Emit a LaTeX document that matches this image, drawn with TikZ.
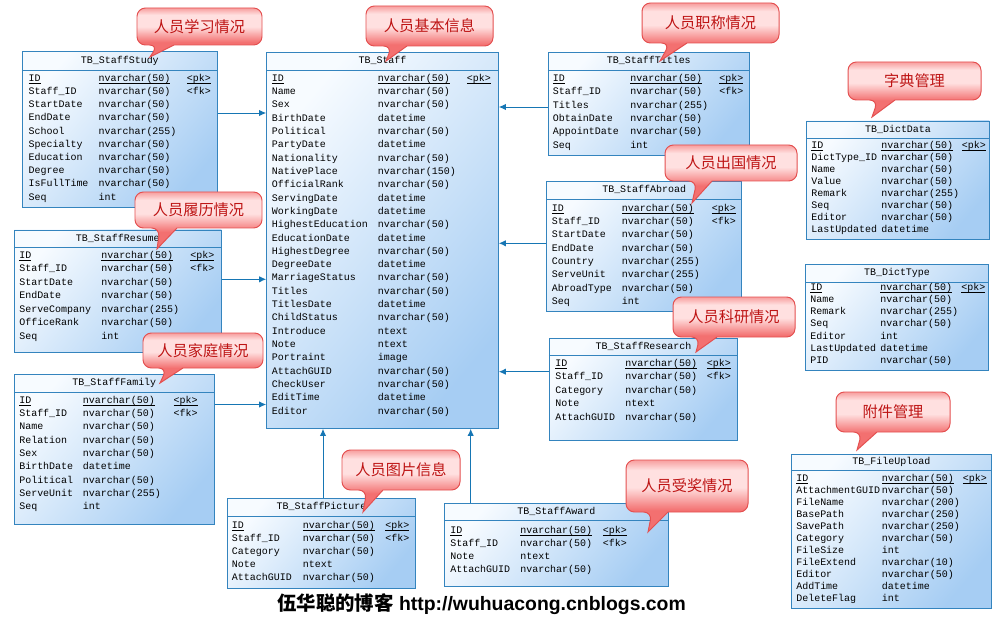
\documentclass[tikz,border=0pt]{standalone}
\usepackage{fontspec}
\usetikzlibrary{fit,arrows.meta}
\setsansfont{Liberation Sans}
\newfontfamily\cjk{Noto Sans CJK SC}
\newfontfamily\tblfont{Liberation Mono}

\definecolor{tblline}{RGB}{52,132,190}
\definecolor{tblhi}{RGB}{247,251,255}
\definecolor{tbllo}{RGB}{166,205,243}
\definecolor{connblue}{RGB}{22,118,180}
\definecolor{bubline}{RGB}{228,80,80}
\definecolor{bubdeep}{RGB}{243,112,112}
\definecolor{bubpale}{RGB}{255,224,224}
\definecolor{bubtop}{RGB}{247,158,158}
\definecolor{bubtext}{RGB}{190,20,20}

\pgfdeclareverticalshading{bubshade}{100bp}{color(0bp)=(bubdeep); color(25bp)=(bubdeep); color(40bp)=(bubdeep); color(56bp)=(bubpale); color(68bp)=(bubpale); color(75bp)=(bubtop); color(100bp)=(bubtop)}

% primary key text, underlined close to the baseline
\newcommand{\pkul}[1]{\underline{\smash{#1}}}

% rows of a table: name, x of field, x of type, y of first row, row step, rows
\newcommand{\dbrows}[6]{%
  \foreach \f/\t [count=\i from 0] in {#6}{
    \node[fld] (#1-f\i) at (#2,{#4+\i*#5}) {\f};
    \node[fld] (#1-t\i) at (#3,{#4+\i*#5}) {\t};
  }}

% speech bubble: name, x1, y1, x2, y2, pointer base left/right, tip, text
\newcommand{\bubble}[9]{%
  \draw[bub] (#8) -- (#7,#5) [rounded corners=6pt] -- (#4,#5) -- (#4,#3) -- (#2,#3) -- (#2,#5) -- (#6,#5) [sharp corners] -- cycle;
  \node[bubtxt] (#1) at ({(#2+#4)/2},{(#3+#5)/2}) {#9};}

\begin{document}
\begin{tikzpicture}[x=0.025cm, y=-0.025cm,
    tbl/.style={draw=tblline, line width=0.7pt, top color=tblhi, bottom color=tbllo, shading angle=50},
    tblln/.style={draw=tblline, line width=0.7pt},
    fld/.style={anchor=west, text height=4.7pt, text depth=1.4pt, font=\tblfont\fontsize{7.1}{8}\selectfont},
    ttl/.style={text height=4.7pt, text depth=1.4pt, font=\tblfont\fontsize{7.1}{8}\selectfont},
    fk/.style={draw=connblue, line width=0.7pt, -{Latex[length=5pt,width=4.5pt]}},
    bub/.style={draw=bubline, line width=0.7pt, shade, shading=bubshade},
    bubtxt/.style={text=bubtext, font=\cjk\fontsize{10.8}{12}\selectfont},
    foot/.style={font=\sffamily\bfseries\fontsize{13.8}{16}\selectfont}]
\tikzstyle{every node}+=[inner sep=0pt]
\useasboundingbox[fill=white] (0,0) rectangle (1003,622);

% TB_Staff
\node[tbl, fit={(266.7,52.3) (498.3,428.3)}] (staff) {};
\draw[tblln] (staff.west |- 0,70) -- (staff.east |- 0,70);
\node[ttl] (staff-ttl) at (382.5,61) {TB\_Staff};
\dbrows{staff}{271.7}{377.7}{79}{13.31}{\pkul{ID}/\pkul{nvarchar(50)}, Name/nvarchar(50), Sex/nvarchar(50),
  BirthDate/datetime, Political/nvarchar(50), PartyDate/datetime, Nationality/nvarchar(50), NativePlace/nvarchar(150),
  OfficialRank/nvarchar(50), ServingDate/datetime, WorkingDate/datetime, HighestEducation/nvarchar(50),
  EducationDate/datetime, HighestDegree/nvarchar(50), DegreeDate/datetime, MarriageStatus/nvarchar(50),
  Titles/nvarchar(50), TitlesDate/datetime, ChildStatus/nvarchar(50), Introduce/ntext, Note/ntext, Portraint/image,
  AttachGUID/nvarchar(50), CheckUser/nvarchar(50), EditTime/datetime, Editor/nvarchar(50)}
\node[fld] (staff-pk) at (466.7,79) {\pkul{<pk>}};

% TB_StaffStudy
\node[tbl, fit={(22.3,51.7) (217.3,207.3)}] (study) {};
\draw[tblln] (study.west |- 0,70) -- (study.east |- 0,70);
\node[ttl] (study-ttl) at (119.8,61) {TB\_StaffStudy};
\dbrows{study}{28.3}{98.3}{79}{13.2}{\pkul{ID}/\pkul{nvarchar(50)}, Staff\_ID/nvarchar(50), StartDate/nvarchar(50),
  EndDate/nvarchar(50), School/nvarchar(255), Specialty/nvarchar(50), Education/nvarchar(50), Degree/nvarchar(50),
  IsFullTime/nvarchar(50), Seq/int}
\node[fld] (study-pk) at (186.7,79) {\pkul{<pk>}};
\node[fld] (study-fk) at (186.7,92.2) {<fk>};

% TB_StaffTitles
\node[tbl, fit={(548.3,52.3) (749.3,155)}] (titles) {};
\draw[tblln] (titles.west |- 0,70) -- (titles.east |- 0,70);
\node[ttl] (titles-ttl) at (648.8,61) {TB\_StaffTitles};
\dbrows{titles}{552.7}{630}{79}{13.4}{\pkul{ID}/\pkul{nvarchar(50)}, Staff\_ID/nvarchar(50), Titles/nvarchar(255),
  ObtainDate/nvarchar(50), AppointDate/nvarchar(50), Seq/int}
\node[fld] (titles-pk) at (719,79) {\pkul{<pk>}};
\node[fld] (titles-fk) at (719,92.4) {<fk>};

% TB_StaffResume
\node[tbl, fit={(14.3,230) (221.3,352.3)}] (resume) {};
\draw[tblln] (resume.west |- 0,247.3) -- (resume.east |- 0,247.3);
\node[ttl] (resume-ttl) at (117.8,238.7) {TB\_StaffResume};
\dbrows{resume}{19}{101}{256}{13.45}{\pkul{ID}/\pkul{nvarchar(50)}, Staff\_ID/nvarchar(50), StartDate/nvarchar(50),
  EndDate/nvarchar(50), ServeCompany/nvarchar(255), OfficeRank/nvarchar(50), Seq/int}
\node[fld] (resume-pk) at (190,256) {\pkul{<pk>}};
\node[fld] (resume-fk) at (190,269.5) {<fk>};

% TB_StaffFamily
\node[tbl, fit={(14.3,374.3) (214.3,524)}] (family) {};
\draw[tblln] (family.west |- 0,392.3) -- (family.east |- 0,392.3);
\node[ttl] (family-ttl) at (114.3,383.3) {TB\_StaffFamily};
\dbrows{family}{19}{82.7}{400.7}{13.33}{\pkul{ID}/\pkul{nvarchar(50)}, Staff\_ID/nvarchar(50), Name/nvarchar(50),
  Relation/nvarchar(50), Sex/nvarchar(50), BirthDate/datetime, Political/nvarchar(50), ServeUnit/nvarchar(255), Seq/int}
\node[fld] (family-pk) at (173.3,400.7) {\pkul{<pk>}};
\node[fld] (family-fk) at (173.3,414) {<fk>};

% TB_StaffAbroad
\node[tbl, fit={(546.7,181.7) (741.7,311)}] (abroad) {};
\draw[tblln] (abroad.west |- 0,199.3) -- (abroad.east |- 0,199.3);
\node[ttl] (abroad-ttl) at (644.2,190.5) {TB\_StaffAbroad};
\dbrows{abroad}{551.7}{621.7}{209}{13.33}{\pkul{ID}/\pkul{nvarchar(50)}, Staff\_ID/nvarchar(50), StartDate/nvarchar(50),
  EndDate/nvarchar(50), Country/nvarchar(255), ServeUnit/nvarchar(255), AbroadType/nvarchar(50), Seq/int}
\node[fld] (abroad-pk) at (711.7,209) {\pkul{<pk>}};
\node[fld] (abroad-fk) at (711.7,222.3) {<fk>};

% TB_StaffResearch
\node[tbl, fit={(549.3,338.3) (737.7,440)}] (research) {};
\draw[tblln] (research.west |- 0,355.7) -- (research.east |- 0,355.7);
\node[ttl] (research-ttl) at (643.5,347) {TB\_StaffResearch};
\dbrows{research}{555}{625}{364}{13.5}{\pkul{ID}/\pkul{nvarchar(50)}, Staff\_ID/nvarchar(50), Category/nvarchar(50),
  Note/ntext, AttachGUID/nvarchar(50)}
\node[fld] (research-pk) at (706.7,364) {\pkul{<pk>}};
\node[fld] (research-fk) at (706.7,377.5) {<fk>};

% TB_StaffPicture
\node[tbl, fit={(227.3,498.3) (415.7,588.3)}] (picture) {};
\draw[tblln] (picture.west |- 0,516.7) -- (picture.east |- 0,516.7);
\node[ttl] (picture-ttl) at (321.5,507.5) {TB\_StaffPicture};
\dbrows{picture}{231.7}{302.7}{525.7}{13}{\pkul{ID}/\pkul{nvarchar(50)}, Staff\_ID/nvarchar(50), Category/nvarchar(50),
  Note/ntext, AttachGUID/nvarchar(50)}
\node[fld] (picture-pk) at (385,525.7) {\pkul{<pk>}};
\node[fld] (picture-fk) at (385,538.7) {<fk>};

% TB_StaffAward
\node[tbl, fit={(444.3,503.3) (668.3,586.7)}] (award) {};
\draw[tblln] (award.west |- 0,520.7) -- (award.east |- 0,520.7);
\node[ttl] (award-ttl) at (556.3,512) {TB\_StaffAward};
\dbrows{award}{450}{520}{530.7}{13.1}{\pkul{ID}/\pkul{nvarchar(50)}, Staff\_ID/nvarchar(50), Note/ntext,
  AttachGUID/nvarchar(50)}
\node[fld] (award-pk) at (602.7,530.7) {\pkul{<pk>}};
\node[fld] (award-fk) at (602.7,543.8) {<fk>};

% TB_DictData
\node[tbl, fit={(806.7,121) (989.3,239.3)}] (dictdata) {};
\draw[tblln] (dictdata.west |- 0,138.3) -- (dictdata.east |- 0,138.3);
\node[ttl] (dictdata-ttl) at (898,129.7) {TB\_DictData};
\dbrows{dictdata}{811}{881}{145.7}{12.14}{\pkul{ID}/\pkul{nvarchar(50)}, DictType\_ID/nvarchar(50), Name/nvarchar(50),
  Value/nvarchar(50), Remark/nvarchar(255), Seq/nvarchar(50), Editor/nvarchar(50), LastUpdated/datetime}
\node[fld] (dictdata-pk) at (961.7,145.7) {\pkul{<pk>}};

% TB_DictType
\node[tbl, fit={(805.7,264.3) (988.3,370)}] (dicttype) {};
\draw[tblln] (dicttype.west |- 0,282.3) -- (dicttype.east |- 0,282.3);
\node[ttl] (dicttype-ttl) at (897,273.3) {TB\_DictType};
\dbrows{dicttype}{810}{880}{288.3}{12.12}{\pkul{ID}/\pkul{nvarchar(50)}, Name/nvarchar(50), Remark/nvarchar(255),
  Seq/nvarchar(50), Editor/int, LastUpdated/datetime, PID/nvarchar(50)}
\node[fld] (dicttype-pk) at (961,288.3) {\pkul{<pk>}};

% TB_FileUpload
\node[tbl, fit={(791.7,454) (991,608.3)}] (fileupload) {};
\draw[tblln] (fileupload.west |- 0,470.7) -- (fileupload.east |- 0,470.7);
\node[ttl] (fileupload-ttl) at (891.3,462.3) {TB\_FileUpload};
\dbrows{fileupload}{796}{881.7}{479}{12.03}{\pkul{ID}/\pkul{nvarchar(50)}, AttachmentGUID/nvarchar(50),
  FileName/nvarchar(200), BasePath/nvarchar(250), SavePath/nvarchar(250), Category/nvarchar(50), FileSize/int,
  FileExtend/nvarchar(10), Editor/nvarchar(50), AddTime/datetime, DeleteFlag/int}
\node[fld] (fileupload-pk) at (962.7,479) {\pkul{<pk>}};

% references to TB_Staff
\draw[fk] (study.east |- 0,113) -- (staff.west |- 0,113);
\draw[fk] (resume.east |- 0,279.3) -- (staff.west |- 0,279.3);
\draw[fk] (family.east |- 0,404.5) -- (staff.west |- 0,404.5);
\draw[fk] (titles.west |- 0,107) -- (staff.east |- 0,107);
\draw[fk] (abroad.west |- 0,243.3) -- (staff.east |- 0,243.3);
\draw[fk] (research.west |- 0,371.7) -- (staff.east |- 0,371.7);
\draw[fk] (picture.north -| 323,0) -- (staff.south -| 323,0);
\draw[fk] (award.north -| 470.7,0) -- (staff.south -| 470.7,0);

% bubbles
\bubble{cstudy}{137}{8}{262}{45}{158}{174}{150,57}{人员学习情况}
\bubble{cstaff}{366}{6}{493}{46}{392}{407}{386,61}{人员基本信息}
\bubble{ctitles}{642}{3}{779}{43}{670}{687}{660,61}{人员职称情况}
\bubble{cdict}{848}{62}{981}{100}{878}{895}{872,117}{字典管理}
\bubble{cabroad}{665}{145}{797}{181}{697}{712}{692,203}{人员出国情况}
\bubble{cresearch}{673}{297}{795}{337}{700}{717}{696,352}{人员科研情况}
\bubble{cresume}{135}{192}{262}{228}{160}{177}{157,249}{人员履历情况}
\bubble{cfamily}{143}{333}{263}{368}{167}{183}{160,383}{人员家庭情况}
\bubble{cpicture}{342}{450}{460}{490}{367}{383}{363,512}{人员图片信息}
\bubble{caward}{626}{460}{748}{512}{652}{668}{648,532}{人员受奖情况}
\bubble{cfile}{836}{392}{950}{432}{862}{877}{857,450}{附件管理}

\node[foot] (blog) at (481.5,604) {{\cjk 伍华聪的博客} http://wuhuacong.cnblogs.com};
\end{tikzpicture}
\end{document}
